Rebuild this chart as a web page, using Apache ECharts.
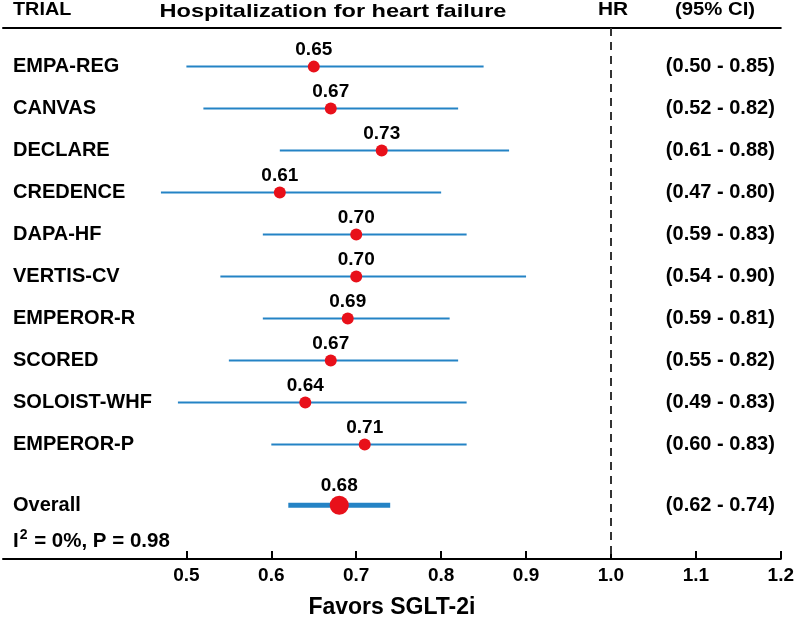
<!DOCTYPE html>
<html>
<head>
<meta charset="utf-8">
<script src="https://cdn.jsdelivr.net/npm/echarts@6/dist/echarts.min.js"></script>
<style>html,body{margin:0;padding:0;background:#fff}#c{width:797px;height:624px}</style>
</head>
<body>
<div id="c"></div>
<script>
// ---- data ----
const trials = ['EMPA-REG','CANVAS','DECLARE','CREDENCE','DAPA-HF','VERTIS-CV','EMPEROR-R','SCORED','SOLOIST-WHF','EMPEROR-P'];
const hr     = [0.65, 0.67, 0.73, 0.61, 0.70, 0.70, 0.69, 0.67, 0.64, 0.71];
const lower  = [0.50, 0.52, 0.61, 0.47, 0.59, 0.54, 0.59, 0.55, 0.49, 0.60];
const upper  = [0.85, 0.82, 0.88, 0.80, 0.83, 0.90, 0.81, 0.82, 0.83, 0.83];
const rowPos = [0, 1, 2, 3, 4, 5, 6, 7, 8, 9];
const overallName = 'Overall';
const overallHR = 0.68, overallLower = 0.62, overallUpper = 0.74, overallPos = 10.45;
const xTicks = [0.5, 0.6, 0.7, 0.8, 0.9, 1.0, 1.1, 1.2];
const nullHR = 1.0;

const FONT = 'Arial, "Liberation Sans", sans-serif';
const BLUE = '#2483c5', RED = '#e8101a';

const allNames = trials.concat([overallName]);
const allPos = rowPos.concat([overallPos]);
const allLo = lower.concat([overallLower]);
const allHi = upper.concat([overallUpper]);
function idxOf(v){ for (let i=0;i<allPos.length;i++) if (Math.abs(allPos[i]-v)<1e-6) return i; return -1; }

const yMin = -0.92, yMax = 11.73;
const xMin = 0.284, xMax = 1.2;

function ciRender(width){
  return function(params, api){
    const a = api.coord([api.value(0), api.value(2)]);
    const b = api.coord([api.value(1), api.value(2)]);
    return {type:'line', shape:{x1:a[0],y1:a[1],x2:b[0],y2:b[1]}, style:{stroke:BLUE, lineWidth:width}};
  };
}
function hdr(text, x, y, size, sx, align){
  return {type:'text', x:x, y:y, scaleX:sx, style:{text:text, font:'bold ' + size + 'px ' + FONT, fill:'#000',
    textAlign:align, align:align, textVerticalAlign:'middle', verticalAlign:'middle'}};
}

const chart = echarts.init(document.getElementById('c'));
chart.setOption({
  animation:false,
  backgroundColor:'#fff',
  grid:{left:3, right:14, top:28, bottom:61, containLabel:false},
  xAxis:[{
    type:'value', min:xMin, max:xMax, position:'bottom',
    name:'Favors SGLT-2i', nameLocation:'middle', nameGap:37,
    nameTextStyle:{fontFamily:FONT, fontWeight:'bold', fontSize:23, color:'#000'},
    axisLine:{show:true, onZero:false, lineStyle:{color:'#000', width:2}},
    axisTick:{show:true, inside:true, length:8, lineStyle:{color:'#000', width:2}, customValues:xTicks},
    axisLabel:{show:true, margin:7, fontFamily:FONT, fontWeight:'bold', fontSize:19, color:'#000',
      customValues:xTicks, formatter:v=>v.toFixed(1)},
    splitLine:{show:false}
  },{
    type:'value', min:xMin, max:xMax, position:'top',
    axisLine:{show:true, onZero:false, lineStyle:{color:'#000', width:2}},
    axisTick:{show:false}, axisLabel:{show:false}, splitLine:{show:false}
  }],
  yAxis:[{
    type:'value', min:yMin, max:yMax, inverse:true, position:'left',
    axisLine:{show:false}, axisTick:{show:false}, splitLine:{show:false},
    axisLabel:{show:true, inside:true, margin:10, align:'left', fontFamily:FONT, fontWeight:'bold', fontSize:20, color:'#000',
      customValues:allPos, formatter:v=>{const i=idxOf(v); return i<0?'':allNames[i];}}
  },{
    type:'value', min:yMin, max:yMax, inverse:true, position:'right',
    axisLine:{show:false}, axisTick:{show:false}, splitLine:{show:false},
    axisLabel:{show:true, inside:true, margin:6, align:'right', fontFamily:FONT, fontWeight:'bold', fontSize:20, color:'#000',
      customValues:allPos, formatter:v=>{const i=idxOf(v); return i<0?'':'(' + allLo[i].toFixed(2) + ' - ' + allHi[i].toFixed(2) + ')';}}
  }],
  series:[
    {
      type:'custom', name:'ci', renderItem:ciRender(2), xAxisIndex:0, yAxisIndex:0,
      data: trials.map((t,i)=>[lower[i], upper[i], rowPos[i]]),
      markLine:{silent:true, symbol:'none', label:{show:false},
        lineStyle:{color:'#333', width:2, type:[8,6]}, data:[{xAxis:nullHR}]}
    },
    {
      type:'custom', name:'overallCi', renderItem:ciRender(5), xAxisIndex:0, yAxisIndex:0,
      data:[[overallLower, overallUpper, overallPos]]
    },
    {
      type:'scatter', name:'hr', xAxisIndex:0, yAxisIndex:0, symbol:'circle', symbolSize:12,
      itemStyle:{color:RED, opacity:1},
      label:{show:true, position:'top', distance:1, fontFamily:FONT, fontWeight:'bold', fontSize:19, color:'#000',
        formatter:p=>p.value[0].toFixed(2)},
      data: trials.map((t,i)=>[hr[i], rowPos[i]])
    },
    {
      type:'scatter', name:'overall', xAxisIndex:0, yAxisIndex:0, symbol:'circle', symbolSize:19,
      itemStyle:{color:RED, opacity:1},
      label:{show:true, position:'top', distance:1, fontFamily:FONT, fontWeight:'bold', fontSize:19, color:'#000',
        formatter:p=>p.value[0].toFixed(2)},
      data:[[overallHR, overallPos]]
    }
  ],
  graphic:[
    hdr('TRIAL', 13, 10, 18, 1.1, 'left'),
    hdr('Hospitalization for heart failure', 333, 12, 19, 1.24, 'center'),
    hdr('HR', 613, 10, 19, 1.1, 'center'),
    hdr('(95% CI)', 715, 10, 19, 1.07, 'center'),
    {type:'text', x:13, y:541, style:{text:'{a|I}{s|2}{a| = 0%, P = 0.98}', fill:'#000',
      textAlign:'left', align:'left', textVerticalAlign:'middle', verticalAlign:'middle',
      rich:{a:{fontFamily:FONT, fontWeight:'bold', fontSize:20.5, fill:'#000', color:'#000'},
            s:{fontFamily:FONT, fontWeight:'bold', fontSize:14, fill:'#000', color:'#000', padding:[0,1,11,1]}}}}
  ]
});
</script>
</body>
</html>
